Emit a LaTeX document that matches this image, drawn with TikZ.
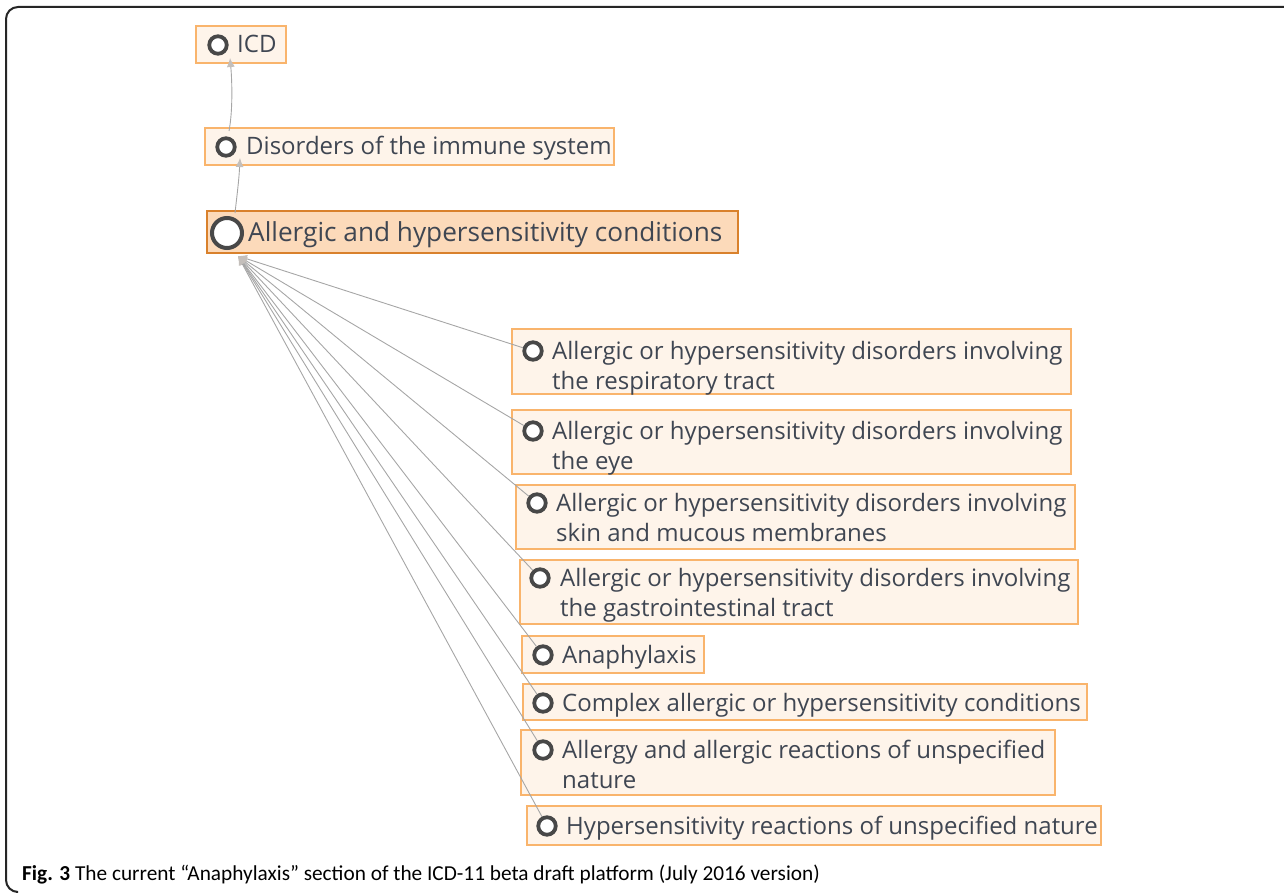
\documentclass[tikz,border=0pt]{standalone}
\usepackage{fontspec}
\usetikzlibrary{arrows.meta}
\newfontfamily\itemfont{Open Sans}
\newfontfamily\capfont{Carlito}
\definecolor{boxfill}{HTML}{FEF4EA}
\definecolor{boxline}{HTML}{F9B46C}
\definecolor{mainfill}{HTML}{FCDABA}
\definecolor{mainline}{HTML}{D9812C}
\definecolor{txtc}{HTML}{3F4652}
\definecolor{dotc}{HTML}{484848}
\definecolor{edgec}{HTML}{A6A6A6}
\definecolor{tipc}{HTML}{C4BFBB}
\begin{document}
\begin{tikzpicture}[x=1pt,y=-1pt,
  box/.style={draw=boxline, fill=boxfill, line width=1.6pt, inner sep=0pt},
  mainbox/.style={draw=mainline, fill=mainfill, line width=1.8pt, inner sep=0pt},
  dot/.style={circle, draw=dotc, fill=white, line width=3.8pt, minimum size=17.5pt, inner sep=0pt},
  bigdot/.style={circle, draw=dotc, fill=white, line width=4pt, minimum size=30pt, inner sep=0pt},
  lbl/.style={anchor=base west, inner sep=0pt, text=txtc, font=\itemfont\fontsize{24}{30}\selectfont},
  mainlbl/.style={anchor=base west, inner sep=0pt, text=txtc, font=\itemfont\fontsize{26.2}{30}\selectfont},
  edge/.style={draw=edgec, line width=0.9pt, -{Latex[length=9pt,width=8pt,color=tipc]}},
  frame/.style={draw=black!85, line width=2pt, rounded corners=12pt}
]
\useasboundingbox (0,0) rectangle (1284,893);
\draw[frame] (1284,7) -- (6,7) -- (6,892) -- (16,892);

% top nodes
\node[box, minimum width=90pt, minimum height=37pt] (bICD) at (241,44.5) {};
\node[dot] (cICD) at (218,45) {};
\node[lbl] (tICD) at (237,53) {ICD};

\node[box, minimum width=409pt, minimum height=37pt] (bDis) at (409.5,146.5) {};
\node[dot] (cDis) at (226,147) {};
\node[lbl] (tDis) at (246,155) {Disorders of the immune system};

\node[mainbox, minimum width=531pt, minimum height=42pt] (bMain) at (472.5,232) {};
\node[bigdot] (cMain) at (227,233) {};
\node[mainlbl] (tMain) at (248,242) {Allergic and hypersensitivity conditions};
\coordinate (hub) at (238,256);

% children
\node[box, minimum width=559pt, minimum height=65pt] (b1) at (791.5,361.5) {};
\node[dot] (c1) at (533,351) {};
\node[lbl] (t1a) at (552,359) {Allergic or hypersensitivity disorders involving};
\node[lbl] (t1b) at (552,389) {the respiratory tract};

\node[box, minimum width=559pt, minimum height=64pt] (b2) at (791.5,442) {};
\node[dot] (c2) at (533,431) {};
\node[lbl] (t2a) at (552,439) {Allergic or hypersensitivity disorders involving};
\node[lbl] (t2b) at (552,469) {the eye};

\node[box, minimum width=559pt, minimum height=64pt] (b3) at (795.5,517) {};
\node[dot] (c3) at (537,503) {};
\node[lbl] (t3a) at (556,511) {Allergic or hypersensitivity disorders involving};
\node[lbl] (t3b) at (556,541) {skin and mucous membranes};

\node[box, minimum width=558pt, minimum height=64pt] (b4) at (799,592) {};
\node[dot] (c4) at (540,578) {};
\node[lbl] (t4a) at (560,586) {Allergic or hypersensitivity disorders involving};
\node[lbl] (t4b) at (560,616) {the gastrointestinal tract};

\node[box, minimum width=182pt, minimum height=37pt] (b5) at (613,654.5) {};
\node[dot] (c5) at (543,655) {};
\node[lbl] (t5) at (562,663) {Anaphylaxis};

\node[box, minimum width=564pt, minimum height=36pt] (b6) at (805,702) {};
\node[dot] (c6) at (543,703) {};
\node[lbl] (t6) at (562,711) {Complex allergic or hypersensitivity conditions};

\node[box, minimum width=534pt, minimum height=65pt] (b7) at (788,762.5) {};
\node[dot] (c7) at (543,750) {};
\node[lbl] (t7a) at (562,758) {Allergy and allergic reactions of unspecified};
\node[lbl] (t7b) at (562,788) {nature};

\node[box, minimum width=574pt, minimum height=39pt] (b8) at (814,825.5) {};
\node[dot] (c8) at (547,826) {};
\node[lbl] (t8) at (566,834) {Hypersensitivity reactions of unspecified nature};

% connectors
\draw[edge] ([shift={(3,-16)}]cDis.center) .. controls (233,110) and (232,80) .. ([shift={(12,13)}]cICD.center);
\draw[edge] ([shift={(8,-20)}]cMain.center) .. controls (237,195) and (239,180) .. ([shift={(14,11)}]cDis.center);
\foreach \i in {1,...,8} {
  \draw[edge] (c\i) -- (hub);
}

% caption
\node[anchor=base west, inner sep=0pt, font=\capfont\fontsize{21.3}{24}\selectfont, text=black] (cap) at (22,880)
  {\textbf{Fig. 3} The current “Anaphylaxis” section of the ICD-11 beta draft platform (July 2016 version)};
\end{tikzpicture}
\end{document}
